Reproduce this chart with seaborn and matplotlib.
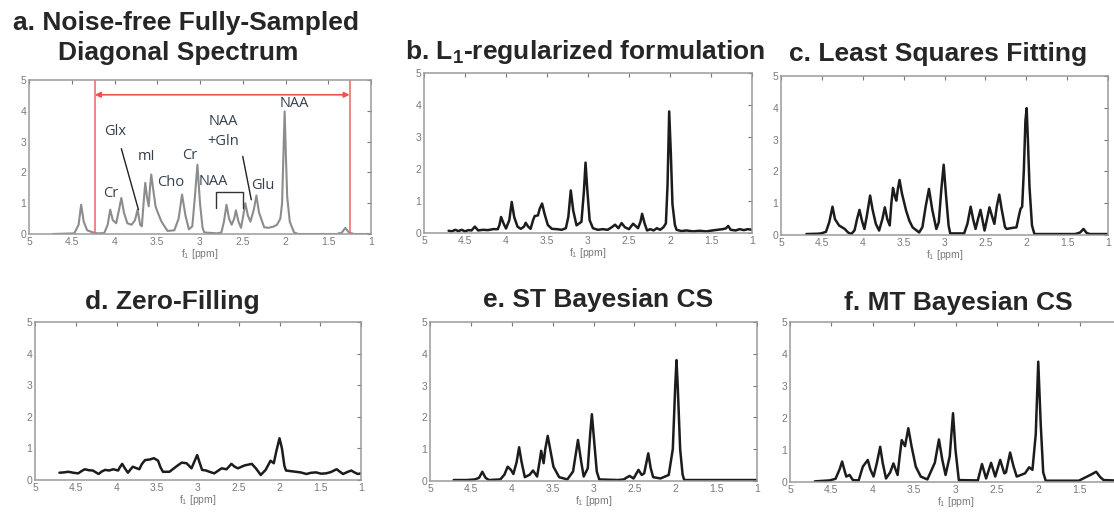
import numpy as np
import pandas as pd
import matplotlib
matplotlib.use("Agg")
import matplotlib.pyplot as plt
import seaborn as sns

# ---------------- data ----------------
tick_vals = [5, 4.5, 4, 3.5, 3, 2.5, 2, 1.5, 1]
tick_labels = ["5", "4.5", "4", "3.5", "3", "2.5", "2", "1.5", "1"]
ytick_vals = [0, 1, 2, 3, 4, 5]

# a. noise-free fully sampled
a_ppm = [4.72, 4.47, 4.42, 4.39, 4.36, 4.32, 4.25, 4.20, 4.12, 4.08, 4.05, 4.02, 3.98, 3.95, 3.92, 3.89,
         3.85, 3.80, 3.76, 3.73, 3.70, 3.68, 3.66, 3.64, 3.62, 3.60, 3.585, 3.57, 3.55, 3.52, 3.50, 3.45,
         3.38, 3.30, 3.25, 3.21, 3.17, 3.13, 3.09, 3.06, 3.03, 3.00, 2.97, 2.95, 2.80, 2.75, 2.72, 2.69,
         2.66, 2.63, 2.60, 2.58, 2.55, 2.52, 2.50, 2.47, 2.44, 2.41, 2.37, 2.34, 2.31, 2.25, 2.20, 2.14,
         2.10, 2.06, 2.04, 2.025, 2.01, 1.995, 1.98, 1.95, 1.90, 1.85, 1.40, 1.34, 1.30, 1.26, 1.20, 1.0]
a_int = [0.0, 0.02, 0.3, 0.95, 0.4, 0.12, 0.05, 0.02, 0.03, 0.3, 0.79, 0.45, 0.35, 0.75, 1.17, 0.7,
         0.35, 0.3, 0.45, 0.79, 0.3, 0.25, 1.0, 1.66, 1.2, 0.9, 1.5, 1.93, 1.5, 0.9, 0.74, 0.4,
         0.1, 0.12, 0.5, 1.28, 0.6, 0.15, 0.25, 1.2, 2.25, 1.0, 0.2, 0.05, 0.02, 0.05, 0.4, 0.95,
         0.5, 0.3, 0.5, 0.77, 0.4, 0.2, 0.5, 1.0, 0.6, 0.4, 0.8, 1.25, 0.7, 0.22, 0.2, 0.24,
         0.3, 0.5, 1.0, 2.5, 3.98, 2.5, 1.2, 0.4, 0.05, 0.0, 0.0, 0.05, 0.2, 0.05, 0.0, 0.0]

# b. L1-regularized formulation
b_ppm = [4.70, 4.66, 4.62, 4.58, 4.54, 4.50, 4.46, 4.42, 4.38, 4.34, 4.28, 4.22, 4.16, 4.10, 4.08, 4.06,
         4.03, 4.00, 3.96, 3.93, 3.90, 3.86, 3.82, 3.78, 3.76, 3.73, 3.70, 3.67, 3.65, 3.61, 3.59, 3.56,
         3.53, 3.49, 3.44, 3.38, 3.32, 3.27, 3.24, 3.21, 3.18, 3.14, 3.08, 3.05, 3.03, 3.01, 2.98, 2.94,
         2.88, 2.82, 2.76, 2.71, 2.67, 2.63, 2.59, 2.55, 2.50, 2.45, 2.39, 2.36, 2.34, 2.31, 2.28, 2.24,
         2.20, 2.16, 2.12, 2.08, 2.05, 2.03, 2.01, 1.99, 1.97, 1.94, 1.92, 1.86, 1.80, 1.72, 1.64, 1.56,
         1.48, 1.42, 1.36, 1.32, 1.29, 1.26, 1.20, 1.15, 1.10, 1.05, 1.0]
b_int = [0.07, 0.05, 0.1, 0.06, 0.1, 0.05, 0.09, 0.08, 0.2, 0.08, 0.1, 0.09, 0.12, 0.12, 0.25, 0.5,
         0.3, 0.14, 0.4, 0.97, 0.5, 0.2, 0.13, 0.2, 0.32, 0.2, 0.13, 0.4, 0.53, 0.55, 0.75, 0.92,
         0.6, 0.25, 0.13, 0.12, 0.1, 0.15, 0.5, 1.33, 0.7, 0.24, 0.35, 1.3, 2.2, 1.4, 0.4, 0.15,
         0.1, 0.12, 0.1, 0.18, 0.26, 0.15, 0.31, 0.18, 0.12, 0.29, 0.15, 0.35, 0.6, 0.3, 0.08, 0.12,
         0.08, 0.15, 0.1, 0.18, 0.3, 1.5, 3.8, 2.5, 0.9, 0.25, 0.1, 0.06, 0.08, 0.05, 0.07, 0.05,
         0.08, 0.1, 0.12, 0.14, 0.22, 0.1, 0.08, 0.12, 0.09, 0.12, 0.1]

# c. least squares fitting
c_ppm = [4.69, 4.55, 4.51, 4.45, 4.41, 4.37, 4.34, 4.29, 4.22, 4.18, 4.14, 4.10, 4.07, 4.04, 4.01, 3.98,
         3.95, 3.91, 3.88, 3.84, 3.80, 3.76, 3.73, 3.70, 3.67, 3.65, 3.63, 3.61, 3.59, 3.57, 3.55, 3.52,
         3.47, 3.43, 3.39, 3.31, 3.27, 3.23, 3.19, 3.15, 3.10, 3.07, 3.04, 3.01, 2.98, 2.95, 2.93, 2.76,
         2.72, 2.68, 2.65, 2.62, 2.59, 2.56, 2.53, 2.51, 2.48, 2.45, 2.42, 2.39, 2.36, 2.33, 2.30, 2.26,
         2.24, 2.18, 2.12, 2.09, 2.07, 2.05, 2.03, 2.01, 1.995, 1.98, 1.96, 1.93, 1.90, 1.40, 1.34, 1.30,
         1.26, 1.22, 1.0]
c_int = [0.03, 0.04, 0.05, 0.1, 0.4, 0.89, 0.5, 0.3, 0.19, 0.08, 0.03, 0.15, 0.5, 0.79, 0.45, 0.19,
         0.6, 1.24, 0.8, 0.35, 0.14, 0.5, 0.87, 0.5, 0.3, 1.0, 1.48, 1.25, 1.08, 1.45, 1.73, 1.3,
         0.77, 0.45, 0.24, 0.08, 0.25, 0.9, 1.45, 0.8, 0.19, 0.4, 1.4, 2.21, 1.2, 0.3, 0.05, 0.05,
         0.35, 0.89, 0.5, 0.19, 0.5, 0.79, 0.4, 0.14, 0.5, 0.87, 0.6, 0.35, 0.9, 1.27, 0.8, 0.25,
         0.19, 0.22, 0.24, 0.6, 0.82, 0.89, 2.0, 3.6, 3.99, 3.0, 1.5, 0.3, 0.03, 0.03, 0.08, 0.19,
         0.06, 0.03, 0.03]

# d. zero-filling
d_ppm = [4.70, 4.65, 4.59, 4.53, 4.47, 4.43, 4.39, 4.34, 4.29, 4.22, 4.18, 4.14, 4.09, 4.04, 3.98, 3.96,
         3.93, 3.90, 3.86, 3.83, 3.80, 3.76, 3.72, 3.69, 3.65, 3.59, 3.54, 3.49, 3.46, 3.43, 3.35, 3.27,
         3.20, 3.14, 3.08, 3.05, 3.01, 2.98, 2.95, 2.90, 2.86, 2.80, 2.75, 2.71, 2.65, 2.59, 2.55, 2.51,
         2.43, 2.34, 2.29, 2.23, 2.17, 2.11, 2.07, 2.04, 2.00, 1.97, 1.94, 1.92, 1.86, 1.80, 1.74, 1.67,
         1.61, 1.55, 1.49, 1.43, 1.37, 1.30, 1.22, 1.17, 1.12, 1.08, 1.04, 1.0]
d_int = [0.23, 0.24, 0.26, 0.23, 0.21, 0.28, 0.34, 0.31, 0.3, 0.19, 0.27, 0.32, 0.3, 0.34, 0.3, 0.4,
         0.51, 0.38, 0.23, 0.33, 0.42, 0.38, 0.34, 0.5, 0.63, 0.65, 0.69, 0.61, 0.4, 0.26, 0.26, 0.42,
         0.55, 0.53, 0.37, 0.55, 0.79, 0.55, 0.32, 0.3, 0.26, 0.21, 0.3, 0.37, 0.34, 0.51, 0.42, 0.37,
         0.46, 0.51, 0.37, 0.16, 0.32, 0.61, 0.53, 0.9, 1.32, 1.0, 0.45, 0.3, 0.28, 0.26, 0.24, 0.19,
         0.23, 0.24, 0.2, 0.21, 0.25, 0.34, 0.19, 0.25, 0.3, 0.24, 0.19, 0.21]

# e. ST Bayesian CS
e_ppm = [4.71, 4.55, 4.45, 4.40, 4.36, 4.32, 4.28, 4.14, 4.09, 4.05, 4.01, 3.98, 3.94, 3.91, 3.88, 3.84,
         3.78, 3.74, 3.69, 3.66, 3.64, 3.61, 3.59, 3.56, 3.53, 3.49, 3.42, 3.32, 3.25, 3.19, 3.15, 3.12,
         3.07, 3.04, 3.02, 2.99, 2.96, 2.93, 2.70, 2.63, 2.56, 2.51, 2.45, 2.41, 2.38, 2.33, 2.30, 2.27,
         2.18, 2.08, 2.03, 2.00, 1.985, 1.97, 1.94, 1.91, 1.89, 1.0]
e_int = [0.03, 0.03, 0.05, 0.1, 0.29, 0.1, 0.03, 0.05, 0.2, 0.45, 0.35, 0.22, 0.6, 1.06, 0.6, 0.12,
         0.2, 0.33, 0.14, 0.6, 0.95, 0.56, 1.0, 1.42, 1.0, 0.45, 0.12, 0.05, 0.3, 1.29, 0.6, 0.14,
         0.4, 1.5, 2.1, 1.2, 0.3, 0.05, 0.03, 0.05, 0.16, 0.08, 0.35, 0.19, 0.24, 0.87, 0.4, 0.12,
         0.08, 0.19, 1.0, 3.0, 3.8, 3.0, 1.0, 0.2, 0.03, 0.03]

# f. MT Bayesian CS
f_ppm = [4.70, 4.52, 4.45, 4.40, 4.37, 4.34, 4.32, 4.28, 4.24, 4.17, 4.12, 4.06, 4.03, 3.99, 3.95, 3.91,
         3.88, 3.84, 3.79, 3.75, 3.70, 3.67, 3.65, 3.61, 3.57, 3.53, 3.48, 3.42, 3.34, 3.25, 3.20, 3.16,
         3.12, 3.07, 3.03, 3.00, 2.96, 2.73, 2.68, 2.63, 2.57, 2.52, 2.46, 2.41, 2.39, 2.34, 2.30, 2.26,
         2.16, 2.11, 2.07, 2.03, 2.00, 1.97, 1.94, 1.91, 1.51, 1.41, 1.37, 1.30, 1.25, 1.21, 1.0]
f_int = [0.02, 0.05, 0.1, 0.4, 0.64, 0.35, 0.17, 0.22, 0.06, 0.05, 0.48, 0.69, 0.4, 0.17, 0.6, 1.1,
         0.6, 0.11, 0.3, 0.58, 0.22, 0.9, 1.31, 1.12, 1.68, 1.1, 0.48, 0.17, 0.08, 0.6, 1.33, 0.7,
         0.22, 0.8, 2.15, 1.0, 0.06, 0.05, 0.56, 0.11, 0.6, 0.17, 0.69, 0.27, 0.3, 0.92, 0.5, 0.17,
         0.27, 0.46, 0.38, 1.5, 3.76, 1.8, 0.3, 0.04, 0.04, 0.17, 0.22, 0.32, 0.15, 0.06, 0.04]

titles = {
    "a1": "a. Noise-free Fully-Sampled",
    "a2": "Diagonal Spectrum",
    "b": r"b. L$_{\mathbf{1}}$-regularized formulation",
    "c": "c. Least Squares Fitting",
    "d": "d. Zero-Filling",
    "e": "e. ST Bayesian CS",
    "f": "f. MT Bayesian CS",
}

# annotation labels for panel a (text, ppm, intensity)
ann_text = ["Cr", "Glx", "mI", "Cho", "Cr", "NAA", "NAA\n+Gln", "Glu", "NAA"]
ann_x = [4.04, 3.99, 3.62, 3.34, 3.12, 2.84, 2.73, 2.27, 1.90]
ann_y = [1.30, 3.33, 2.50, 1.66, 2.55, 1.69, 3.33, 1.58, 4.25]
range_lo, range_hi, range_y = 4.23, 1.25, 4.52

# ---------------- style ----------------
sns.set_theme(style="white")
plt.rcParams['font.family'] = ['Liberation Sans', 'DejaVu Sans']
plt.rcParams['mathtext.fontset'] = 'custom'
plt.rcParams['mathtext.rm'] = 'Liberation Sans'
plt.rcParams['mathtext.bf'] = 'Liberation Sans:bold'
plt.rcParams['mathtext.it'] = 'Liberation Sans:italic'

W, H = 1114, 515
fig = plt.figure(figsize=(W / 100, H / 100), dpi=100)


def box(x0, y0, x1, y1):
    return [x0 / W, 1 - y1 / H, (x1 - x0) / W, (y1 - y0) / H]


axes_boxes = {
    "a": box(29, 80, 371, 234),
    "b": box(424, 73, 752, 233),
    "c": box(781, 76, 1108, 235),
    "d": box(35, 322, 361, 480),
    "e": box(430, 322, 757, 481),
    "f": box(790, 322, 1121, 482),
}

series = {
    "a": (a_ppm, a_int),
    "b": (b_ppm, b_int),
    "c": (c_ppm, c_int),
    "d": (d_ppm, d_int),
    "e": (e_ppm, e_int),
    "f": (f_ppm, f_int),
}

axes = {}
for key, pos in axes_boxes.items():
    ax = fig.add_axes(pos)
    axes[key] = ax
    ppm, inten = series[key]
    df = pd.DataFrame({"ppm": ppm, "intensity": inten})
    color = "#8c8c8c" if key == "a" else "#1c1c1c"
    lw = 1.5 if key == "a" else 1.8
    sns.lineplot(data=df, x="ppm", y="intensity", ax=ax, color=color, lw=lw,
                 sort=False, estimator=None)
    ax.set_xlim(5, 1)
    ax.set_ylim(0, 5)
    ax.set_xticks(tick_vals)
    labels = list(tick_labels)
    if key == "f":
        labels[-1] = ""   # this label falls outside the canvas in the reference
    ax.set_xticklabels(labels)
    ax.set_yticks(ytick_vals)
    ax.set_yticklabels([str(v) for v in ytick_vals])
    ax.tick_params(direction="in", top=True, right=True, length=3, width=0.8,
                   color="#777777", labelcolor="#7a7a7a", labelsize=7.5, pad=2)
    for s in ax.spines.values():
        s.set_color("#9a9a9a")
        s.set_linewidth(1.1)
    ax.set_xlabel(r"f$_{\mathrm{1}}$ [ppm]", fontsize=7.5, color="#7a7a7a", labelpad=0)
    ax.set_ylabel("")
    ax.grid(False)

# panel a annotations
ax = axes["a"]
red = "#f07070"
ax.axvline(range_lo, color=red, lw=1.2)
ax.axvline(range_hi, color=red, lw=1.2)
ax.annotate("", xy=(range_hi, range_y), xytext=(range_lo, range_y),
            arrowprops=dict(arrowstyle="<|-|>", color="#f05050", lw=1.2,
                            shrinkA=0, shrinkB=0, mutation_scale=8))
lab_color = "#34404f"
for t, x, y in zip(ann_text, ann_x, ann_y):
    ax.text(x, y, t, ha="center", va="center", fontsize=10.5, color=lab_color,
            family=["Open Sans", "DejaVu Sans"], linespacing=1.45)
ax.plot([3.92, 3.72], [2.77, 0.79], color="#222222", lw=1.0)
ax.plot([2.50, 2.40], [2.52, 1.11], color="#222222", lw=1.0)
ax.plot([2.81, 2.81, 2.50, 2.50], [0.84, 1.35, 1.35, 0.84], color="#333333", lw=1.0)

# titles
tfs = 19
fig.text(186 / W, 1 - 30 / H, titles["a1"], ha="center", va="baseline", fontsize=tfs, fontweight="bold")
fig.text(178 / W, 1 - 60 / H, titles["a2"], ha="center", va="baseline", fontsize=tfs, fontweight="bold")
fig.text(585 / W, 1 - 59 / H, titles["b"], ha="center", va="baseline", fontsize=tfs, fontweight="bold")
fig.text(938 / W, 1 - 61 / H, titles["c"], ha="center", va="baseline", fontsize=tfs, fontweight="bold")
fig.text(172 / W, 1 - 309 / H, titles["d"], ha="center", va="baseline", fontsize=tfs, fontweight="bold")
fig.text(598 / W, 1 - 307 / H, titles["e"], ha="center", va="baseline", fontsize=tfs, fontweight="bold")
fig.text(958 / W, 1 - 310 / H, titles["f"], ha="center", va="baseline", fontsize=tfs, fontweight="bold")

fig.savefig("out.png", dpi=100, facecolor="white")
